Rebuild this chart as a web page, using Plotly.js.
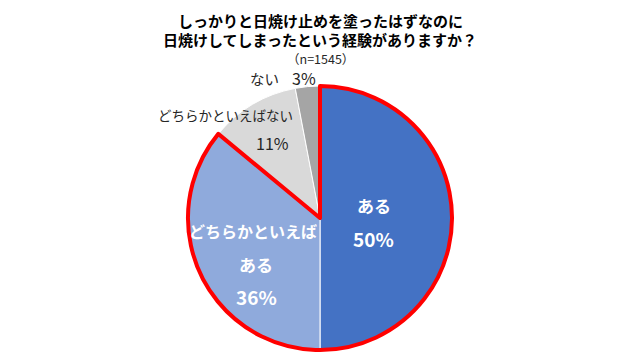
<!DOCTYPE html>
<html>
<head>
<meta charset="utf-8">
<script src="https://cdn.plot.ly/plotly-3.0.1.min.js"></script>
<style>html,body{margin:0;padding:0;background:#fff;}#chart{width:640px;height:359px;}</style>
</head>
<body>
<div id="chart"></div>
<script>
const categories = ['ある', 'どちらかといえばある', 'どちらかといえばない', 'ない'];
const values = [50, 36, 11, 3];
const colors = ['#4472C4', '#8FAADC', '#D9D9D9', '#A5A5A5'];
const titleLines = ['しっかりと日焼け止めを塗ったはずなのに', '日焼けしてしまったという経験がありますか？'];
const sampleNote = '（n=1545）';

const FONT = '"Noto Sans CJK JP", "Noto Sans", sans-serif';
const W = 640, H = 359;
const cx = 320, cy = 218, R = 132;
const domY = [1 - (cy + R) / H, 1 - (cy - R) / H];

const pieBase = {
  type: 'pie', sort: false, direction: 'clockwise', rotation: 0,
  domain: {x: [0, 1], y: domY}, textinfo: 'none', hoverinfo: 'none', showlegend: false
};

const slices = Object.assign({}, pieBase, {
  labels: categories, values: values,
  marker: {colors: colors, line: {color: '#FFFFFF', width: 1}}
});

// red outline around the "ある" side (first two categories combined)
const yesSum = values[0] + values[1];
const noSum = values[2] + values[3];
const outline = Object.assign({}, pieBase, {
  labels: ['yes', 'no'], values: [yesSum, noSum],
  marker: {colors: ['rgba(0,0,0,0)', 'rgba(0,0,0,0)'],
           line: {color: ['#FF0000', 'rgba(0,0,0,0)'], width: 4}}
});

function ann(text, px, py, size, color, bold) {
  return {
    text: bold ? '<b>' + text + '</b>' : text,
    x: px / W, y: 1 - py / H, xref: 'paper', yref: 'paper',
    xanchor: 'center', yanchor: 'middle', showarrow: false, borderpad: 0,
    font: {family: FONT, size: size, color: color}
  };
}
const pct = v => v + '%';

const annotations = [
  ann(titleLines[0], 320, 20, 15, '#000000', true),
  ann(titleLines[1], 320, 39.5, 15, '#000000', true),
  ann(sampleNote, 320, 58.5, 12.5, '#262626', false),
  ann(categories[0], 374, 205, 17, '#FFFFFF', true),
  ann(pct(values[0]), 373, 238, 19, '#FFFFFF', true),
  ann('どちらかといえば', 253, 231, 16, '#FFFFFF', true),
  ann('ある', 256, 264, 17, '#FFFFFF', true),
  ann(pct(values[1]), 256, 296, 19, '#FFFFFF', true),
  ann(categories[2], 225, 115, 13.5, '#262626', false),
  ann(pct(values[2]), 272, 143, 16, '#262626', false),
  ann(categories[3], 264.5, 78, 14.5, '#262626', false),
  ann(pct(values[3]), 303.5, 78, 16, '#262626', false)
];

const layout = {
  width: W, height: H,
  margin: {l: 0, r: 0, t: 0, b: 0},
  paper_bgcolor: '#FFFFFF', plot_bgcolor: '#FFFFFF',
  annotations: annotations
};

Plotly.newPlot('chart', [slices, outline], layout, {displayModeBar: false, staticPlot: true});
</script>
</body>
</html>
